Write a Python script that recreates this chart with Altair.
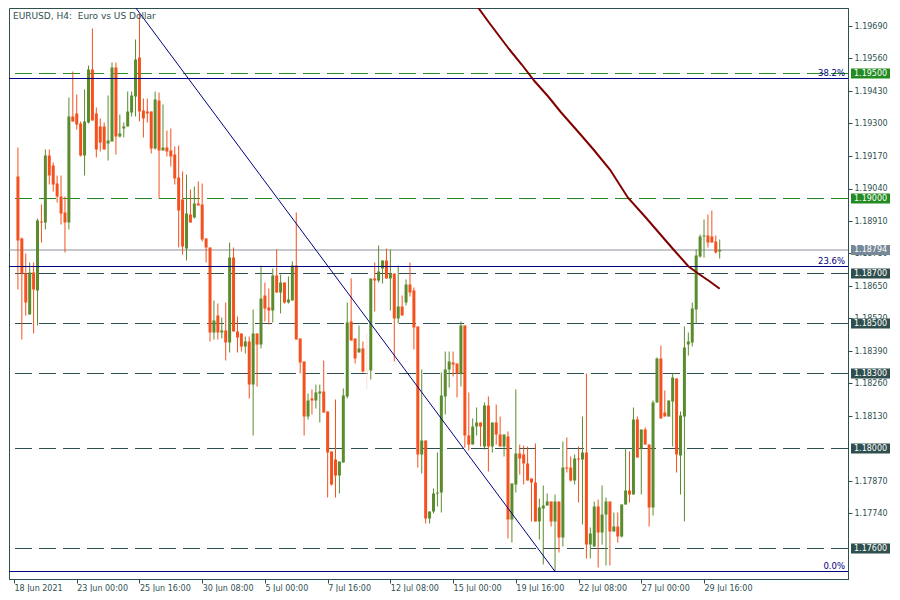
import altair as alt
import pandas as pd

# ---------------- data (EURUSD H4) ----------------
OPEN = [1.19088, 1.18840, 1.18700, 1.18536, 1.18704, 1.18632, 1.18908, 1.18904, 1.19172, 1.19132,
        1.19060, 1.19008, 1.18944, 1.18904, 1.19328, 1.19340, 1.19300, 1.19172, 1.19304, 1.19516,
        1.19340, 1.19288, 1.19288, 1.19220, 1.19228, 1.19524, 1.19248, 1.19280, 1.19288, 1.19344,
        1.19408, 1.19564, 1.19352, 1.19348, 1.19348, 1.19200, 1.19392, 1.19192, 1.19204, 1.19192,
        1.19176, 1.19084, 1.18996, 1.18800, 1.18936, 1.18924, 1.18980, 1.18976, 1.18840, 1.18804,
        1.18464, 1.18532, 1.18464, 1.18472, 1.18424, 1.18764, 1.18468, 1.18460, 1.18408, 1.18428,
        1.18256, 1.18460, 1.18416, 1.18612, 1.18564, 1.18552, 1.18692, 1.18624, 1.18664, 1.18584,
        1.18592, 1.18732, 1.18440, 1.18348, 1.18128, 1.18200, 1.18192, 1.18220, 1.18228, 1.18148,
        1.17988, 1.17956, 1.17892, 1.17944, 1.18208, 1.18508, 1.18440, 1.18384, 1.18400, 1.18308,
        1.18312, 1.18680, 1.18672, 1.18720, 1.18752, 1.18680, 1.18700, 1.18520, 1.18568, 1.18584,
        1.18656, 1.18632, 1.18488, 1.17976, 1.18032, 1.17720, 1.17748, 1.17820, 1.17824, 1.18208,
        1.18316, 1.18344, 1.18340, 1.18300, 1.18492, 1.18052, 1.18016, 1.18088, 1.18104, 1.18008,
        1.18172, 1.18008, 1.18104, 1.18056, 1.18008, 1.18048, 1.17716, 1.17856, 1.17980, 1.17976,
        1.17940, 1.17880, 1.17864, 1.17708, 1.17760, 1.17772, 1.17788, 1.17708, 1.17788, 1.17644,
        1.17924, 1.17924, 1.17872, 1.17960, 1.17956, 1.17984, 1.17616, 1.17608, 1.17768, 1.17664,
        1.17736, 1.17788, 1.17668, 1.17688, 1.17648, 1.17776, 1.17832, 1.17816, 1.18116, 1.18000,
        1.18076, 1.18016, 1.17764, 1.18184, 1.18360, 1.18144, 1.18128, 1.18188, 1.18280, 1.17972,
        1.18128, 1.18416, 1.18424, 1.18556, 1.18768, 1.18848, 1.18852, 1.18848, 1.18828, 1.18788]
HIGH = [1.19204, 1.18844, 1.18780, 1.18744, 1.18744, 1.18920, 1.18976, 1.19196, 1.19196, 1.19144,
        1.19092, 1.19092, 1.19008, 1.19404, 1.19508, 1.19416, 1.19308, 1.19436, 1.19532, 1.19680,
        1.19364, 1.19320, 1.19304, 1.19412, 1.19544, 1.19544, 1.19336, 1.19304, 1.19428, 1.19428,
        1.19636, 1.19736, 1.19400, 1.19400, 1.19348, 1.19428, 1.19424, 1.19376, 1.19272, 1.19280,
        1.19208, 1.19212, 1.19108, 1.19096, 1.19036, 1.19048, 1.19068, 1.19060, 1.18840, 1.18804,
        1.18592, 1.18580, 1.18524, 1.18584, 1.18824, 1.18804, 1.18528, 1.18460, 1.18448, 1.18448,
        1.18556, 1.18460, 1.18732, 1.18664, 1.18640, 1.18720, 1.18796, 1.18696, 1.18664, 1.18688,
        1.18748, 1.18944, 1.18440, 1.18348, 1.18220, 1.18236, 1.18256, 1.18256, 1.18352, 1.18148,
        1.17988, 1.18196, 1.17948, 1.18240, 1.18584, 1.18680, 1.18440, 1.18492, 1.18428, 1.18460,
        1.18680, 1.18744, 1.18812, 1.18752, 1.18800, 1.18796, 1.18700, 1.18732, 1.18612, 1.18676,
        1.18744, 1.18644, 1.18488, 1.18316, 1.18032, 1.17748, 1.17840, 1.17984, 1.18304, 1.18388,
        1.18388, 1.18388, 1.18340, 1.18508, 1.18492, 1.18224, 1.18120, 1.18164, 1.18104, 1.18184,
        1.18208, 1.18104, 1.18176, 1.18128, 1.18056, 1.18068, 1.17860, 1.18236, 1.18016, 1.18012,
        1.18008, 1.17880, 1.18020, 1.17800, 1.17852, 1.17820, 1.17788, 1.17816, 1.17788, 1.18028,
        1.18044, 1.17968, 1.17976, 1.18008, 1.18128, 1.18300, 1.17684, 1.17788, 1.17796, 1.17852,
        1.17804, 1.17788, 1.17744, 1.17744, 1.17776, 1.18000, 1.17988, 1.18164, 1.18128, 1.18076,
        1.18084, 1.18016, 1.18192, 1.18364, 1.18412, 1.18232, 1.18192, 1.18300, 1.18280, 1.18148,
        1.18488, 1.18464, 1.18584, 1.18796, 1.18856, 1.18916, 1.18936, 1.18952, 1.18852, 1.18836]
LOW = [1.18636, 1.18436, 1.18532, 1.18536, 1.18460, 1.18492, 1.18824, 1.18876, 1.19056, 1.19028,
       1.18984, 1.18896, 1.18784, 1.18876, 1.19308, 1.19276, 1.19168, 1.19092, 1.19300, 1.19312,
       1.19164, 1.19188, 1.19196, 1.19152, 1.19228, 1.19176, 1.19244, 1.19244, 1.19288, 1.19328,
       1.19328, 1.19308, 1.19244, 1.19304, 1.19180, 1.19196, 1.19000, 1.19192, 1.19168, 1.19128,
       1.19056, 1.18804, 1.18776, 1.18752, 1.18904, 1.18920, 1.18972, 1.18828, 1.18744, 1.18428,
       1.18436, 1.18436, 1.18440, 1.18352, 1.18384, 1.18468, 1.18384, 1.18388, 1.18380, 1.18200,
       1.18052, 1.18248, 1.18400, 1.18508, 1.18496, 1.18504, 1.18624, 1.18540, 1.18580, 1.18580,
       1.18592, 1.18436, 1.18300, 1.18052, 1.18116, 1.18136, 1.18160, 1.18104, 1.18144, 1.17804,
       1.17852, 1.17804, 1.17820, 1.17944, 1.18200, 1.18432, 1.18340, 1.18384, 1.18304, 1.18236,
       1.18276, 1.18548, 1.18664, 1.18660, 1.18680, 1.18552, 1.18348, 1.18500, 1.18532, 1.18572,
       1.18608, 1.18396, 1.17924, 1.17900, 1.17700, 1.17700, 1.17740, 1.17768, 1.17744, 1.18136,
       1.18244, 1.18288, 1.18204, 1.18248, 1.18004, 1.17992, 1.18016, 1.18052, 1.18008, 1.17996,
       1.17908, 1.17984, 1.18016, 1.18008, 1.17968, 1.17640, 1.17624, 1.17824, 1.17896, 1.17856,
       1.17872, 1.17708, 1.17708, 1.17636, 1.17536, 1.17772, 1.17688, 1.17508, 1.17584, 1.17608,
       1.17904, 1.17868, 1.17856, 1.17784, 1.17696, 1.17560, 1.17560, 1.17608, 1.17524, 1.17616,
       1.17532, 1.17532, 1.17668, 1.17624, 1.17644, 1.17776, 1.17784, 1.17816, 1.17964, 1.17816,
       1.18016, 1.17688, 1.17732, 1.18184, 1.18120, 1.18128, 1.18128, 1.18008, 1.17904, 1.17816,
       1.17708, 1.18372, 1.18408, 1.18500, 1.18764, 1.18764, 1.18804, 1.18824, 1.18780, 1.18760]
CLOSE = [1.18832, 1.18700, 1.18584, 1.18704, 1.18636, 1.18912, 1.18904, 1.19172, 1.19092, 1.19056,
         1.19008, 1.18940, 1.18904, 1.19328, 1.19308, 1.19296, 1.19172, 1.19308, 1.19516, 1.19312,
         1.19196, 1.19224, 1.19196, 1.19232, 1.19524, 1.19248, 1.19260, 1.19288, 1.19348, 1.19412,
         1.19556, 1.19348, 1.19320, 1.19340, 1.19200, 1.19396, 1.19192, 1.19204, 1.19188, 1.19168,
         1.19080, 1.18952, 1.18808, 1.18940, 1.18904, 1.18980, 1.18972, 1.18836, 1.18804, 1.18464,
         1.18512, 1.18464, 1.18472, 1.18424, 1.18764, 1.18468, 1.18444, 1.18408, 1.18428, 1.18256,
         1.18460, 1.18416, 1.18600, 1.18560, 1.18552, 1.18692, 1.18624, 1.18664, 1.18584, 1.18596,
         1.18732, 1.18436, 1.18344, 1.18128, 1.18192, 1.18192, 1.18224, 1.18228, 1.18144, 1.17984,
         1.17856, 1.17892, 1.17948, 1.18212, 1.18504, 1.18432, 1.18360, 1.18400, 1.18308, 1.18312,
         1.18680, 1.18672, 1.18708, 1.18752, 1.18680, 1.18700, 1.18520, 1.18568, 1.18532, 1.18656,
         1.18624, 1.18484, 1.17976, 1.18032, 1.17720, 1.17748, 1.17820, 1.17824, 1.18212, 1.18316,
         1.18348, 1.18336, 1.18300, 1.18492, 1.18052, 1.18016, 1.18088, 1.18104, 1.18088, 1.18172,
         1.18008, 1.18104, 1.18056, 1.18008, 1.18056, 1.17716, 1.17860, 1.17980, 1.17960, 1.17940,
         1.17872, 1.17864, 1.17708, 1.17764, 1.17772, 1.17788, 1.17708, 1.17788, 1.17644, 1.17924,
         1.17920, 1.17872, 1.17960, 1.17956, 1.17984, 1.17616, 1.17660, 1.17768, 1.17664, 1.17736,
         1.17788, 1.17668, 1.17688, 1.17648, 1.17776, 1.17832, 1.17816, 1.18116, 1.17964, 1.18076,
         1.18016, 1.17764, 1.18184, 1.18360, 1.18120, 1.18128, 1.18192, 1.18284, 1.17976, 1.18132,
         1.18404, 1.18428, 1.18560, 1.18772, 1.18848, 1.18852, 1.18824, 1.18824, 1.18784, 1.18794]
FAINT_BARS = [90]

TICK_BARS = [0, 16, 32, 48, 64, 80, 96, 112, 128, 144, 160, 176]
TICK_LABELS = ["18 Jun 2021", "23 Jun 00:00", "25 Jun 16:00", "30 Jun 08:00", "5 Jul 00:00",
               "7 Jul 16:00", "12 Jul 08:00", "15 Jul 00:00", "19 Jul 16:00", "22 Jul 08:00",
               "27 Jul 00:00", "29 Jul 16:00"]
# scale labels that stay visible (the ones under the price boxes are hidden in the reference)
PRICE_TICKS = [1.17740, 1.17870, 1.18130, 1.18260, 1.18390, 1.18520, 1.18650,
               1.18780, 1.18910, 1.19040, 1.19170, 1.19300, 1.19430, 1.19560, 1.19690]

GREEN_LEVELS = [1.19500, 1.19000]
DARK_LEVELS = [1.18700, 1.18500, 1.18300, 1.18000, 1.17600]
LAST_PRICE = [1.18794]
FIB_PRICES = [1.19480, 1.18728, 1.17508]
FIB_LABELS = ["38.2%", "23.6%", "0.0%"]
TREND_BAR = [30, 138]
TREND_PRICE = [1.19785, 1.17508]
MA_BAR = [117.4, 121.2, 126.2, 129.5, 132.8, 136.2, 139.5, 144.5, 147.8, 152.0, 156.6, 161.2,
          164.5, 168.2, 172.0, 174.5, 177.4, 180.0]
MA_PRICE = [1.19785, 1.19703, 1.19599, 1.19536, 1.19469, 1.19409, 1.19345, 1.19256, 1.19196,
            1.19116, 1.19003, 1.18923, 1.18863, 1.18796, 1.18729, 1.18700, 1.18669, 1.18639]
TITLE = "EURUSD, H4:\u00a0 Euro vs US Dollar"

# ---------------- styling ----------------
W, H = 839, 571
FONT = "DejaVu Sans"
SLATE = "#2F4F4F"
GREEN = "#228B22"
NAVY = "#000080"
GRAY = "#778899"

bars = list(range(1, len(OPEN) + 1))
candles = pd.DataFrame({"bar": bars, "open": OPEN, "high": HIGH, "low": LOW, "close": CLOSE})
candles["dir"] = ["faint" if b in FAINT_BARS else ("up" if c >= o else "down")
                  for b, o, c in zip(bars, OPEN, CLOSE)]

xs = alt.Scale(domain=[0, 211.45], nice=False, zero=False)
ys = alt.Scale(domain=[1.17478, 1.19762], nice=False, zero=False)

label_expr = ("[" + ",".join("'%s'" % t for t in TICK_LABELS) + "][indexof(["
              + ",".join(str(b) for b in TICK_BARS) + "], datum.value)]")

x_axis = alt.Axis(values=TICK_BARS, labelExpr=label_expr, orient="bottom", grid=False, title=None,
                  tickSize=4, labelAlign="left", labelPadding=1, labelFont=FONT, labelFontSize=8,
                  labelColor=SLATE, tickColor=SLATE, domainColor=SLATE, labelOverlap=False,
                  labelFlush=False, labelBound=False)
y_axis = alt.Axis(values=PRICE_TICKS, format=".5f", orient="right", grid=False, title=None,
                  tickSize=4, labelPadding=2, labelFont=FONT, labelFontSize=8, labelColor=SLATE,
                  tickColor=SLATE, domainColor=SLATE, labelOverlap=False, labelFlush=False,
                  labelBaseline="middle")


def X(field):
    return alt.X(field, scale=xs, axis=x_axis)


def Y(field):
    return alt.Y(field, scale=ys, axis=y_axis)


color = alt.Color("dir:N", scale=alt.Scale(domain=["up", "down", "faint"],
                                           range=["#5A8C2E", "#F4511E", "#F3E4D6"]), legend=None)

wicks = alt.Chart(candles).mark_rule(strokeWidth=1, clip=True).encode(
    x=X("bar:Q"), y=Y("low:Q"), y2="high:Q", color=color)
bodies = alt.Chart(candles).mark_bar(size=3, clip=True).encode(
    x=X("bar:Q"), y=Y("open:Q"), y2="close:Q", color=color)


def hline(values, col, dash=None, width=1):
    kw = dict(color=col, strokeWidth=width)
    if dash:
        kw["strokeDash"] = dash
    return alt.Chart(pd.DataFrame({"price": values})).mark_rule(**kw).encode(y=Y("price:Q"))


def price_box(values, col):
    df = pd.DataFrame({"price": values, "label": ["%.5f" % v for v in values]})
    box = alt.Chart(df).transform_calculate(
        lo="datum.price - 0.0002", hi="datum.price + 0.0002"
    ).mark_rect(color=col, clip=False).encode(
        x=alt.value(W + 3), x2=alt.value(W + 42), y=Y("lo:Q"), y2="hi:Q")
    txt = alt.Chart(df).mark_text(align="left", baseline="middle", color="white", font=FONT,
                                  fontSize=8, clip=False).encode(
        x=alt.value(W + 6), y=Y("price:Q"), text="label:N")
    return box + txt


dark_lines = hline(DARK_LEVELS, SLATE, dash=[17, 7])
green_lines = hline(GREEN_LEVELS, GREEN, dash=[17, 7])
last_line = hline(LAST_PRICE, "#8A9199")

fib_df = pd.DataFrame({"price": FIB_PRICES, "label": FIB_LABELS})
fib_lines = alt.Chart(fib_df).mark_rule(color=NAVY, strokeWidth=1).encode(y=Y("price:Q"))
fib_text = alt.Chart(fib_df).mark_text(align="right", baseline="alphabetic", dy=-3, color=NAVY,
                                       font=FONT, fontSize=8.5).encode(
    x=alt.value(W - 3), y=Y("price:Q"), text="label:N")

trend = alt.Chart(pd.DataFrame({"bar": TREND_BAR, "price": TREND_PRICE})).mark_line(
    color=NAVY, strokeWidth=1, clip=True).encode(x=X("bar:Q"), y=Y("price:Q"))

ma = alt.Chart(pd.DataFrame({"bar": MA_BAR, "price": MA_PRICE})).mark_line(
    color="#800000", strokeWidth=2, clip=True).encode(x=X("bar:Q"), y=Y("price:Q"))

title = alt.Chart(pd.DataFrame({"t": [TITLE]})).mark_text(
    align="left", baseline="alphabetic", font=FONT, fontSize=9, color=SLATE).encode(
    x=alt.value(4), y=alt.value(11), text="t:N")

chart = alt.layer(
    dark_lines, green_lines, last_line, wicks, bodies, fib_lines, fib_text, trend, ma,
    price_box(GREEN_LEVELS, GREEN), price_box(LAST_PRICE, GRAY), price_box(DARK_LEVELS, SLATE),
    title,
).properties(width=W, height=H, padding=0, background="white").configure_view(
    stroke=SLATE, strokeWidth=1)

chart.save("out.html", embed_options={"renderer": "svg", "actions": False})
